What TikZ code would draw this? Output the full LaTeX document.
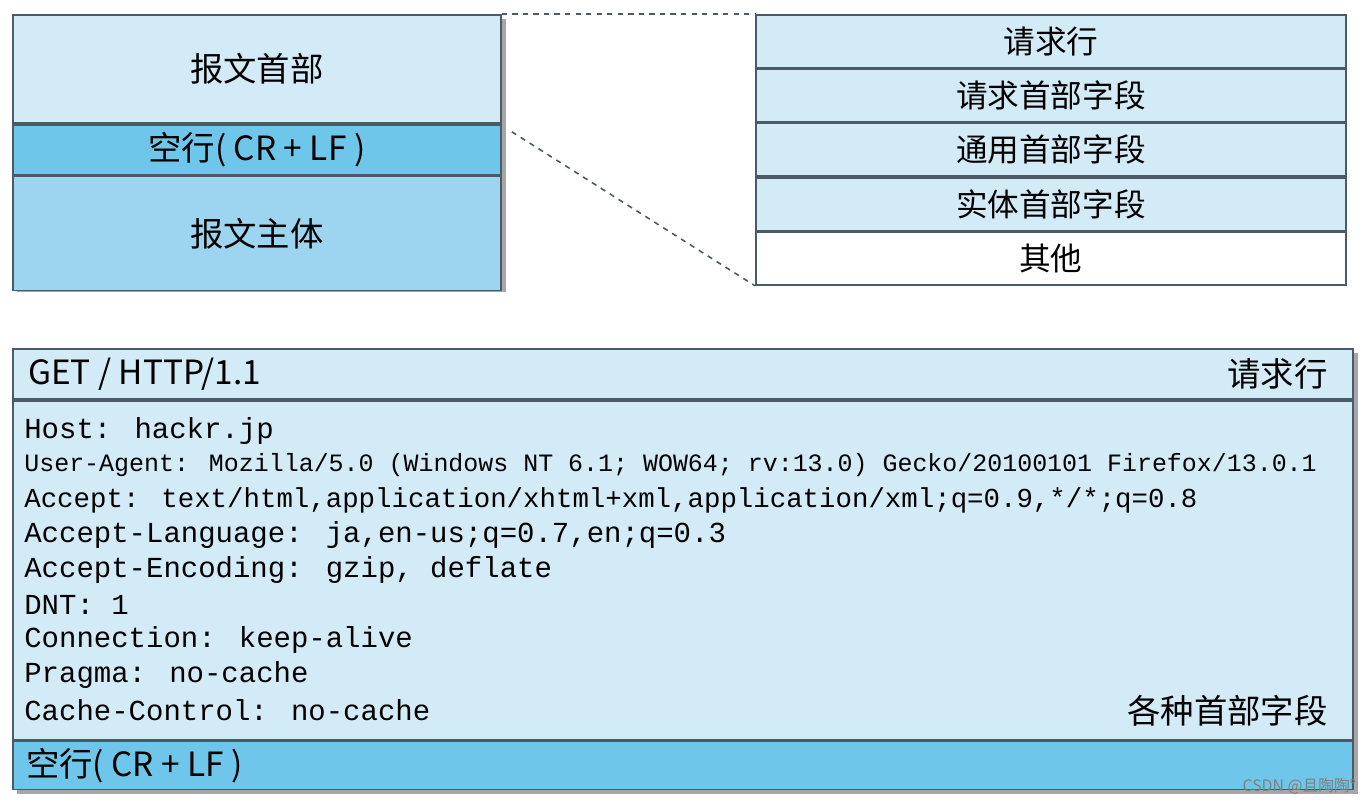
\documentclass[tikz,border=0pt]{standalone}
\usepackage{fontspec}
\setmainfont{Noto Sans CJK SC}
\newfontfamily\monofont{Liberation Mono}
\usetikzlibrary{positioning,shadows}
\definecolor{headblue}{HTML}{D2EBF7}
\definecolor{blankblue}{HTML}{6EC6EA}
\definecolor{bodyblue}{HTML}{9DD5F0}
\definecolor{edgegray}{HTML}{4A5A66}

\begin{document}
\begin{tikzpicture}[x=0.02cm, y=-0.02cm, node distance=0pt,
    row/.style={rectangle, draw=edgegray, line width=1pt, inner sep=0pt, font=\fontsize{19}{22}\selectfont},
    field/.style={row, fill=headblue, minimum width=590*0.02cm, minimum height=52.6*0.02cm, font=\fontsize{18}{21}\selectfont},
    code/.style={anchor=west, inner sep=0pt, font=\monofont\fontsize{16.5}{19}\selectfont},
    link/.style={dashed, line width=0.9pt, edgegray}]
    \useasboundingbox (0,0) rectangle (1366,806);

    % message structure
    \fill[gray!70] (17,19) rectangle (506,292);
    \node[row, fill=headblue, minimum width=488*0.02cm, minimum height=108*0.02cm, anchor=north west] (head) at (12,14) {报文首部};
    \node[row, fill=blankblue, minimum width=488*0.02cm, minimum height=50*0.02cm, below=of head] (blank) {空行( CR + LF )};
    \node[row, fill=bodyblue, minimum width=488*0.02cm, minimum height=114*0.02cm, below=of blank] (body) {报文主体};

    % header fields
    \node[field, anchor=north west] (reqline) at (755,14) {请求行};
    \node[field, below=of reqline] (reqfield) {请求首部字段};
    \node[field, below=of reqfield] (genfield) {通用首部字段};
    \node[field, below=of genfield] (entfield) {实体首部字段};
    \node[field, fill=white, below=of entfield] (other) {其他};

    \draw[link] (head.north east) -- (reqline.north west);
    \draw[link] ([xshift=10*0.02cm, yshift=-8*0.02cm]head.south east) -- (other.south west);

    % example request
    \fill[gray!70] (17,353) rectangle (1358,794);
    \node[row, fill=headblue, minimum width=1340*0.02cm, minimum height=50*0.02cm, anchor=north west] (getrow) at (12,348) {};
    \node[row, fill=headblue, minimum width=1340*0.02cm, minimum height=339*0.02cm, below=of getrow] (fields) {};
    \node[row, fill=blankblue, minimum width=1340*0.02cm, minimum height=48*0.02cm, below=of fields] (crlf) {};

    \node[anchor=west, font=\fontsize{19}{22}\selectfont] (get) at ([xshift=10*0.02cm]getrow.west) {GET / HTTP/1.1};
    \node[anchor=east, font=\fontsize{19}{22}\selectfont] (getlbl) at ([xshift=-20*0.02cm]getrow.east) {请求行};
    \node[anchor=west, font=\fontsize{19}{22}\selectfont] (crlftxt) at ([xshift=8*0.02cm]crlf.west) {空行( CR + LF )};
    \node[anchor=south east, font=\fontsize{19}{22}\selectfont] (fieldlbl) at ([xshift=-20*0.02cm, yshift=8*0.02cm]fields.south east) {各种首部字段};

    \node[code] (l1) at (24,431) {Host: hackr.jp};
    \node[code, font=\monofont\fontsize{14.2}{17}\selectfont] (l2) at (24,465) {User-Agent: Mozilla/5.0 (Windows NT 6.1; WOW64; rv:13.0) Gecko/20100101 Firefox/13.0.1};
    \node[code, font=\monofont\fontsize{15.6}{18}\selectfont] (l3) at (24,500) {Accept: text/html,application/xhtml+xml,application/xml;q=0.9,*/*;q=0.8};
    \node[code] (l4) at (24,535) {Accept-Language: ja,en-us;q=0.7,en;q=0.3};
    \node[code] (l5) at (24,570) {Accept-Encoding: gzip, deflate};
    \node[code] (l6) at (24,605) {DNT: 1};
    \node[code] (l7) at (24,640) {Connection: keep-alive};
    \node[code] (l8) at (24,675) {Pragma: no-cache};
    \node[code] (l9) at (24,710) {Cache-Control: no-cache};

    \node[anchor=south east, text=gray, font=\fontsize{9}{10}\selectfont] (mark) at (1362,800) {CSDN @且陶陶°};
\end{tikzpicture}
\end{document}
